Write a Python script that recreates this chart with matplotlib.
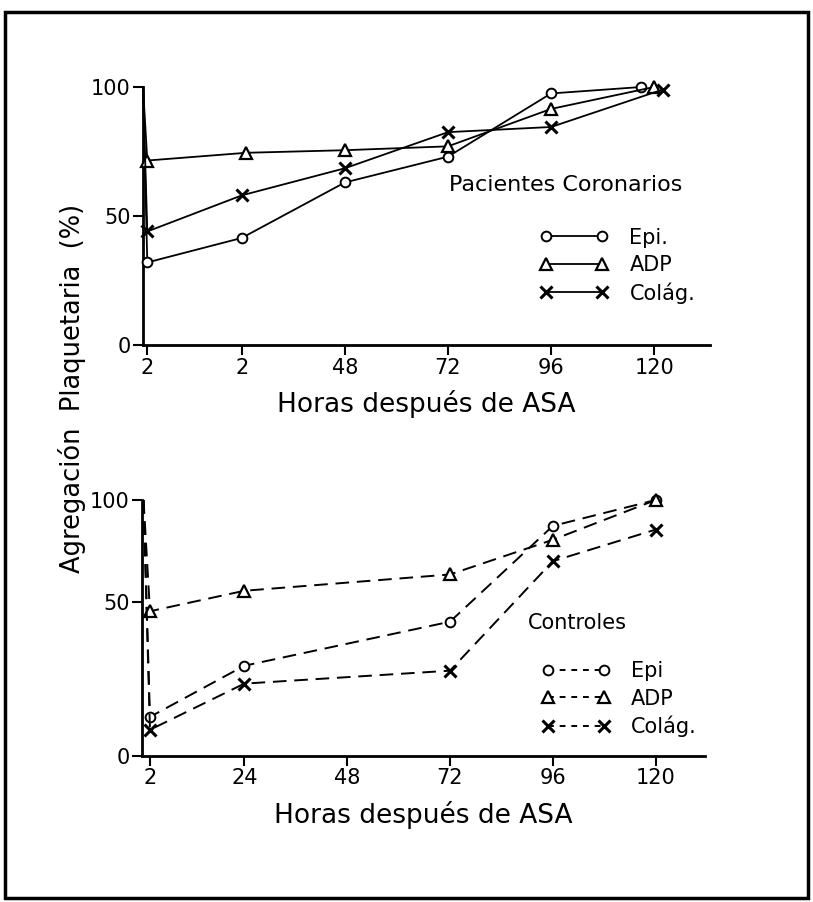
import numpy as np
import matplotlib
matplotlib.use("Agg")
import matplotlib.pyplot as plt
from matplotlib.lines import Line2D
from matplotlib.patches import Rectangle

plt.rcParams['font.family'] = ['DejaVu Sans']

# ---------------- data ----------------
# Top panel: Pacientes Coronarios (hours after ASA; first point = baseline)
top_epi_h = [1, 2, 24, 48, 72, 96, 117]
top_epi_v = [100, 32, 41.5, 63, 73, 97.5, 100]
top_adp_h = [1, 2, 25, 48, 72, 96, 120]
top_adp_v = [100, 71.5, 74.5, 75.5, 77, 91.5, 100]
top_col_h = [1, 2, 24, 48, 72, 96, 122]
top_col_v = [100, 44, 58, 68.5, 82.5, 84.5, 99]
top_ticks = [2, 24, 48, 72, 96, 120]
top_ticklabels = ["2", "2", "48", "72", "96", "120"]

# Bottom panel: Controles
bot_epi_h = [0.5, 2, 24, 72, 96, 120]
bot_epi_v = [100, 12.7, 29.3, 43.6, 87.3, 100]
bot_adp_h = [0.5, 2, 24, 72, 96, 120]
bot_adp_v = [100, 47, 55.5, 63.5, 80.5, 100]
bot_col_h = [0.5, 2, 24, 72, 96, 120]
bot_col_v = [100, 8.5, 23.5, 27.7, 70, 85.5]
bot_ticks = [2, 24, 48, 72, 96, 120]
bot_ticklabels = ["2", "24", "48", "72", "96", "120"]

y_ticks = [0, 50, 100]
y_ticklabels = ["0", "50", "100"]

legend_top = ["Epi.", "ADP", "Colág."]
legend_bot = ["Epi", "ADP", "Colág."]

FS = 15

fig = plt.figure(figsize=(8.13, 9.02), dpi=100)
fig.patch.set_facecolor('white')

W, H = 813.0, 902.0
def ax_rect(l, r, t, b):
    return [l / W, 1 - b / H, (r - l) / W, (b - t) / H]

ax1 = fig.add_axes(ax_rect(143, 710, 87, 345))
ax2 = fig.add_axes(ax_rect(142, 705, 500, 756))

mk = dict(o=dict(marker='o', ms=7, mfc='white', mec='black', mew=1.4),
          t=dict(marker='^', ms=9, mfc='white', mec='black', mew=1.6),
          x=dict(marker='x', ms=8, mec='black', mew=2.2))

# piecewise scale for bottom panel (hand-drawn axis: 0-50 longer than 50-100)
def fwd(v):
    v = np.asarray(v, float)
    return np.where(v <= 50, v * 154 / 50, 154 + (v - 50) * 102 / 50)

def inv(p):
    p = np.asarray(p, float)
    return np.where(p <= 154, p * 50 / 154, 50 + (p - 154) * 50 / 102)

def style_axes(ax, xlim, ticks, labels):
    ax.set_xlim(*xlim)
    ax.set_ylim(0, 100)
    for s in ['top', 'right']:
        ax.spines[s].set_visible(False)
    for s in ['left', 'bottom']:
        ax.spines[s].set_linewidth(2.0)
    ax.set_xticks(ticks)
    ax.set_xticklabels(labels, fontsize=FS)
    ax.set_yticks(y_ticks)
    ax.set_yticklabels(y_ticklabels, fontsize=FS)
    ax.tick_params(axis='both', direction='out', length=7, width=1.5, pad=2)
    ax.set_xlabel("Horas después de ASA", fontsize=19, labelpad=9)

# ---- top panel ----
lw = 1.3
for h, v, m in [(top_epi_h, top_epi_v, 'o'), (top_adp_h, top_adp_v, 't'),
                (top_col_h, top_col_v, 'x')]:
    ax1.plot(h, v, color='black', lw=lw, clip_on=False, markevery=list(range(1, len(h))),
             zorder=3, **mk[m])
style_axes(ax1, (1.0, 133), top_ticks, top_ticklabels)
ax1.text(0.54, 0.62, "Pacientes Coronarios", transform=ax1.transAxes, fontsize=FS + 1,
         ha='left', va='center')
h1 = [Line2D([0], [0], color='black', lw=lw, **mk[k]) for k in ['o', 't', 'x']]
ax1.legend(h1, legend_top, numpoints=2, loc='upper left', bbox_to_anchor=(0.7, 0.455),
           frameon=False, fontsize=FS, handlelength=3.3, handletextpad=1.0,
           labelspacing=0.35, borderpad=0, borderaxespad=0)

# ---- bottom panel ----
ax2.set_yscale('function', functions=(fwd, inv))
dash = (0, (7, 4))
for h, v, m in [(bot_epi_h, bot_epi_v, 'o'), (bot_adp_h, bot_adp_v, 't'),
                (bot_col_h, bot_col_v, 'x')]:
    ax2.plot(h, v, color='black', lw=1.4, ls=dash, clip_on=False,
             markevery=list(range(1, len(h))), zorder=3, **mk[m])
style_axes(ax2, (0.14, 131.5), bot_ticks, bot_ticklabels)
ax2.text(0.685, 0.52, "Controles", transform=ax2.transAxes, fontsize=FS,
         ha='left', va='center')
h2 = [Line2D([0], [0], color='black', lw=1.4, ls=(0, (3, 3)), **mk[k]) for k in ['o', 't', 'x']]
ax2.legend(h2, legend_bot, numpoints=2, loc='upper left', bbox_to_anchor=(0.71, 0.37),
           frameon=False, fontsize=FS, handlelength=3.3, handletextpad=1.0,
           labelspacing=0.35, borderpad=0, borderaxespad=0)

fig.text(72 / W, 1 - 388 / H, "Agregación  Plaquetaria  (%)", rotation=90,
         fontsize=18.5, ha='center', va='center')

fig.patches.append(Rectangle((5 / W, 4 / H), (808 - 5) / W, (898 - 12) / H,
                             transform=fig.transFigure, fill=False, lw=2.5,
                             edgecolor='black'))

fig.savefig("out.png", dpi=100, facecolor='white')
